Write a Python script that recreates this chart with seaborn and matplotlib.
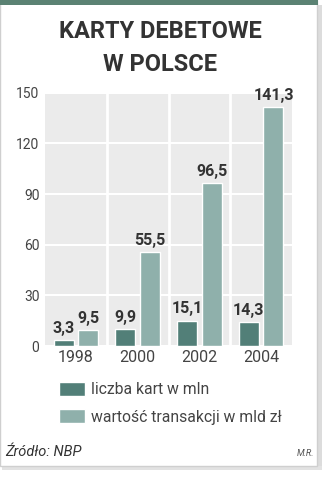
import matplotlib
matplotlib.use("Agg")
import matplotlib.pyplot as plt
import seaborn as sns
import pandas as pd
from matplotlib.patches import Rectangle

years = ["1998", "2000", "2002", "2004"]
cards = [3.3, 9.9, 15.1, 14.3]
transactions = [9.5, 55.5, 96.5, 141.3]
series_names = ["liczba kart w mln", "wartość transakcji w mld zł"]
yticks = [0, 30, 60, 90, 120, 150]
title = "KARTY DEBETOWE\nW POLSCE"
source = "Źródło: NBP"
author = "M.R."

DARK = "#527f78"
LIGHT = "#8fb0ab"
BG = "#ebebeb"
TXT = "#333333"

df = pd.DataFrame({
    "rok": years * 2,
    "wartosc": cards + transactions,
    "seria": [series_names[0]] * 4 + [series_names[1]] * 4,
})

sns.set_theme(style="white")
plt.rcParams["font.family"] = ["Roboto", "DejaVu Sans"]

W, H = 326, 480
fig = plt.figure(figsize=(W / 100, H / 100), dpi=100)
fig.patch.set_facecolor("white")

# card shadow & border
fig.patches.append(Rectangle((317 / W, 1 - 470 / H), 5 / W, 465 / H, transform=fig.transFigure,
                             facecolor="#dcdcdc", edgecolor="none", zorder=-3))
fig.patches.append(Rectangle((2 / W, 1 - 470 / H), 320 / W, 4 / H, transform=fig.transFigure,
                             facecolor="#e2e2e2", edgecolor="none", zorder=-3))
fig.patches.append(Rectangle((0, 1 - 466 / H), 317 / W, 466 / H, transform=fig.transFigure,
                             facecolor="white", edgecolor="#cfcfcf", linewidth=1, zorder=-2))
fig.patches.append(Rectangle((0, 1 - 5 / H), 318 / W, 5 / H, transform=fig.transFigure,
                             facecolor="#5b8273", edgecolor="none", zorder=-1))

left, right, top, bottom = 45, 292, 92.7, 346
ax = fig.add_axes([left / W, 1 - bottom / H, (right - left) / W, (bottom - top) / H])
ax.set_zorder(2)
ax.set_facecolor(BG)

sns.barplot(data=df, x="rok", y="wartosc", hue="seria", order=years, hue_order=series_names,
            palette=[DARK, LIGHT], width=0.8, gap=0.19, ax=ax, legend=True, zorder=3,
            saturation=1)

ax.set_xlim(-0.5, 3.5)
ax.set_ylim(0, 150)
ax.set_yticks(yticks)
ax.set_yticklabels([str(v) for v in yticks])
ax.set_xticks(range(len(years)))
ax.set_xticklabels(years)
ax.set_xticks([0.5, 1.5, 2.5], minor=True)
ax.grid(False)
ax.yaxis.grid(True, color="white", linewidth=1.5, zorder=1)
ax.xaxis.grid(True, which="minor", color="white", linewidth=2, zorder=1)
ax.set_axisbelow(True)
for s in ax.spines.values():
    s.set_visible(False)
ax.tick_params(axis="both", which="both", length=0)
ax.tick_params(axis="y", labelsize=10, labelcolor="#444444", pad=4)
ax.tick_params(axis="x", labelsize=11.5, labelcolor="#444444", pad=3)
ax.set_xlabel("")
ax.set_ylabel("")

for cont, vals in zip(ax.containers, [cards, transactions]):
    ax.bar_label(cont, labels=[f"{v:.1f}".replace(".", ",") for v in vals], padding=3,
                 fontsize=11.5, fontweight="bold", color=TXT)

handles, labels = ax.get_legend_handles_labels()
ax.get_legend().remove()
leg = fig.legend(handles, labels, loc="upper left", bbox_to_anchor=(59 / W, 1 - 382 / H),
                 frameon=False, fontsize=11.3, handlelength=1.65, handleheight=0.95,
                 handletextpad=0.4, labelspacing=0.78, labelcolor="#444444", borderaxespad=0,
                 borderpad=0)
leg.set_zorder(5)

fig.text(160 / W, 1 - 48 / H, title, ha="center", va="center", fontsize=17,
         fontweight="bold", color=TXT, linespacing=1.6)
fig.text(5 / W, 1 - 452 / H, source, ha="left", va="center", fontsize=10.5,
         fontstyle="italic", color=TXT)
fig.text(314 / W, 1 - 454 / H, author, ha="right", va="center", fontsize=6.5,
         fontstyle="italic", color="#555555")

fig.savefig("out.png", dpi=100)
